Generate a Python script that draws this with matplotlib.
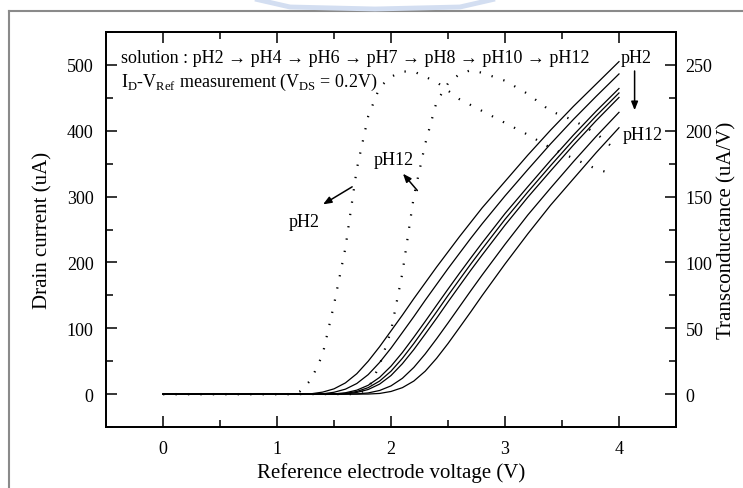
import matplotlib
matplotlib.use("Agg")
import matplotlib.pyplot as plt
from matplotlib.lines import Line2D
from matplotlib.ticker import MultipleLocator

plt.rcParams["font.family"] = ["Liberation Serif", "DejaVu Serif"]
plt.rcParams["mathtext.fontset"] = "custom"
plt.rcParams["mathtext.rm"] = "Liberation Serif"

# drain current curves (uA) vs reference electrode voltage (V)
v_id = [0, 1.0, 1.2, 1.3, 1.4, 1.5, 1.6, 1.7, 1.8, 1.9, 2.0, 2.1, 2.2, 2.3,
        2.4, 2.5, 2.6, 2.7, 2.8, 3.0, 3.2, 3.4, 3.6, 3.8, 4.0]
id_ph2 = [0, 0, 0, 0.5, 3, 8, 17, 31, 50, 72, 96, 120, 145, 169,
          193, 216, 239, 261, 283, 323, 363, 401, 437, 471, 505]
id_ph4 = [0, 0, 0, 0, 0.4, 2.8, 7.5, 16.1, 29.6, 48.1, 69.8, 93.6, 117.6, 142.5,
          166.6, 190.6, 213.7, 236.7, 258.8, 301, 341, 380.1, 417.2, 452.3, 486.3]
id_ph6 = [0, 0, 0, 0, 0, 0.3, 2.0, 6.0, 13.4, 25.4, 42.4, 63.2, 86.4, 110.4,
          135, 159.4, 183.4, 206.8, 229.8, 274.2, 315, 355, 393.4, 429.8, 464.2]
id_ph7 = [0, 0, 0, 0, 0, 0.1, 1.0, 4.0, 9.8, 19.8, 34.8, 54.4, 76.8, 100.8,
          125, 149.8, 173.8, 197.6, 220.6, 265.4, 307, 347, 385.8, 422.6, 457.4]
id_ph8 = [0, 0, 0, 0, 0, 0, 0.4, 2.5, 7.0, 15.2, 28.2, 46.2, 67.6, 91.2,
          115.2, 140, 164.2, 188.2, 211.4, 256.6, 299, 339, 378.2, 415.4, 450.6]
id_ph10 = [0, 0, 0, 0, 0, 0, 0, 0.3, 1.8, 5.5, 12.5, 24, 40.5, 61,
           84, 108, 132.5, 157, 181, 227.5, 272, 313, 353, 391.5, 428]
id_ph12 = [0, 0, 0, 0, 0, 0, 0, 0, 0.1, 1.0, 4.0, 9.8, 19.8, 34.8,
           54.4, 76.8, 100.8, 125, 149.8, 197.6, 243.4, 287, 327, 366.8, 404.6]

# transconductance (uA/V)
v_gm2 = [0, 1.15, 1.2, 1.3, 1.4, 1.5, 1.6, 1.7, 1.8, 1.9, 2.0, 2.1, 2.2,
         2.4, 2.6, 2.8, 3.0, 3.2, 3.4, 3.6, 3.8, 3.95]
gm_ph2 = [0, 0, 2, 11, 30, 68, 111, 171, 211, 233, 241, 245, 245,
          237, 224, 215, 206, 197, 187, 179, 171, 167]
v_gm12 = [0, 1.7, 1.8, 1.9, 2.0, 2.1, 2.2, 2.3, 2.4, 2.5, 2.6, 2.7, 2.8,
          3.0, 3.2, 3.4, 3.6, 3.8, 3.95]
gm_ph12 = [0, 0, 4, 22, 48, 92, 150, 190, 222, 236, 243, 246, 244,
           238, 228, 215, 208, 198, 187]

fig = plt.figure(figsize=(7.43, 4.89), dpi=100)
ax = fig.add_axes([0.1427, 0.1247, 0.7671, 0.8078])
ax2 = ax.twinx()

for cur in [id_ph2, id_ph4, id_ph6, id_ph7, id_ph8, id_ph10, id_ph12]:
    ax.plot(v_id, cur, color="black", lw=0.9)

ax2.plot(v_gm2, gm_ph2, color="black", lw=1.6, linestyle=(0, (0.6, 5)))
ax2.plot(v_gm12, gm_ph12, color="black", lw=1.6, linestyle=(0, (0.6, 5)))

ax.set_xlim(-0.5, 4.5)
ax.set_ylim(-50, 550)
ax2.set_ylim(-25, 275)
ax.xaxis.set_major_locator(MultipleLocator(1))
ax.xaxis.set_minor_locator(MultipleLocator(0.5))
ax.yaxis.set_major_locator(MultipleLocator(100))
ax.yaxis.set_minor_locator(MultipleLocator(50))
ax2.yaxis.set_major_locator(MultipleLocator(50))
ax2.yaxis.set_minor_locator(MultipleLocator(25))

ax.tick_params(which="both", direction="in", top=True, right=False, labelsize=13, width=1.1)
ax.tick_params(which="major", length=8, pad=9)
ax.tick_params(which="minor", length=5)
ax2.tick_params(which="both", direction="in", labelsize=13, width=1.1)
ax2.tick_params(which="major", length=8, pad=7)
ax2.tick_params(which="minor", length=5)
for a in (ax, ax2):
    for s in a.spines.values():
        s.set_linewidth(1.3)

ax.set_xlabel("Reference electrode voltage (V)", fontsize=15, labelpad=4)
ax.set_ylabel("Drain current (uA)", fontsize=15, labelpad=10)
ax2.set_ylabel("Transconductance (uA/V)", fontsize=15, labelpad=3)

ax.text(-0.37, 511, "solution : pH2 \u2192 pH4 \u2192 pH6 \u2192 pH7 \u2192 pH8 \u2192 pH10 \u2192 pH12",
        fontsize=13, va="center", ha="left")
ax.text(-0.37, 475, r"I$_\mathrm{D}$-V$_\mathrm{Ref}$ measurement (V$_\mathrm{DS}$ = 0.2V)",
        fontsize=13, va="center", ha="left")

arrow = dict(arrowstyle="-|>,head_length=0.5,head_width=0.2", color="black", lw=1.1)
ax.annotate("", xy=(1.383, 286), xytext=(1.68, 317), arrowprops=arrow)
ax.text(1.234, 262, "pH2", fontsize=13, ha="center", va="center")
ax.annotate("", xy=(2.089, 338), xytext=(2.247, 306), arrowprops=arrow)
ax.text(2.02, 356, "pH12", fontsize=13, ha="center", va="center")
ax.annotate("", xy=(4.137, 427), xytext=(4.137, 495), arrowprops=arrow)
ax.text(4.15, 512, "pH2", fontsize=13, ha="center", va="center")
ax.text(4.21, 394, "pH12", fontsize=13, ha="center", va="center")

# page border and faint watermark from the scanned document
fig.add_artist(Line2D([9 / 743, 1], [1 - 12 / 489, 1 - 12 / 489], color="#8a8a8a", lw=1.5))
fig.add_artist(Line2D([9 / 743, 9 / 743], [0, 1 - 12 / 489], color="#8a8a8a", lw=1.5))
wx = [255, 290, 375, 460, 495]
wy = [0, 8, 10, 8, 0]
fig.add_artist(Line2D([x / 743 for x in wx], [1 - y / 489 for y in wy],
                      color="#d3def1", lw=3.5, solid_capstyle="butt"))

fig.savefig("out.png", dpi=100)
